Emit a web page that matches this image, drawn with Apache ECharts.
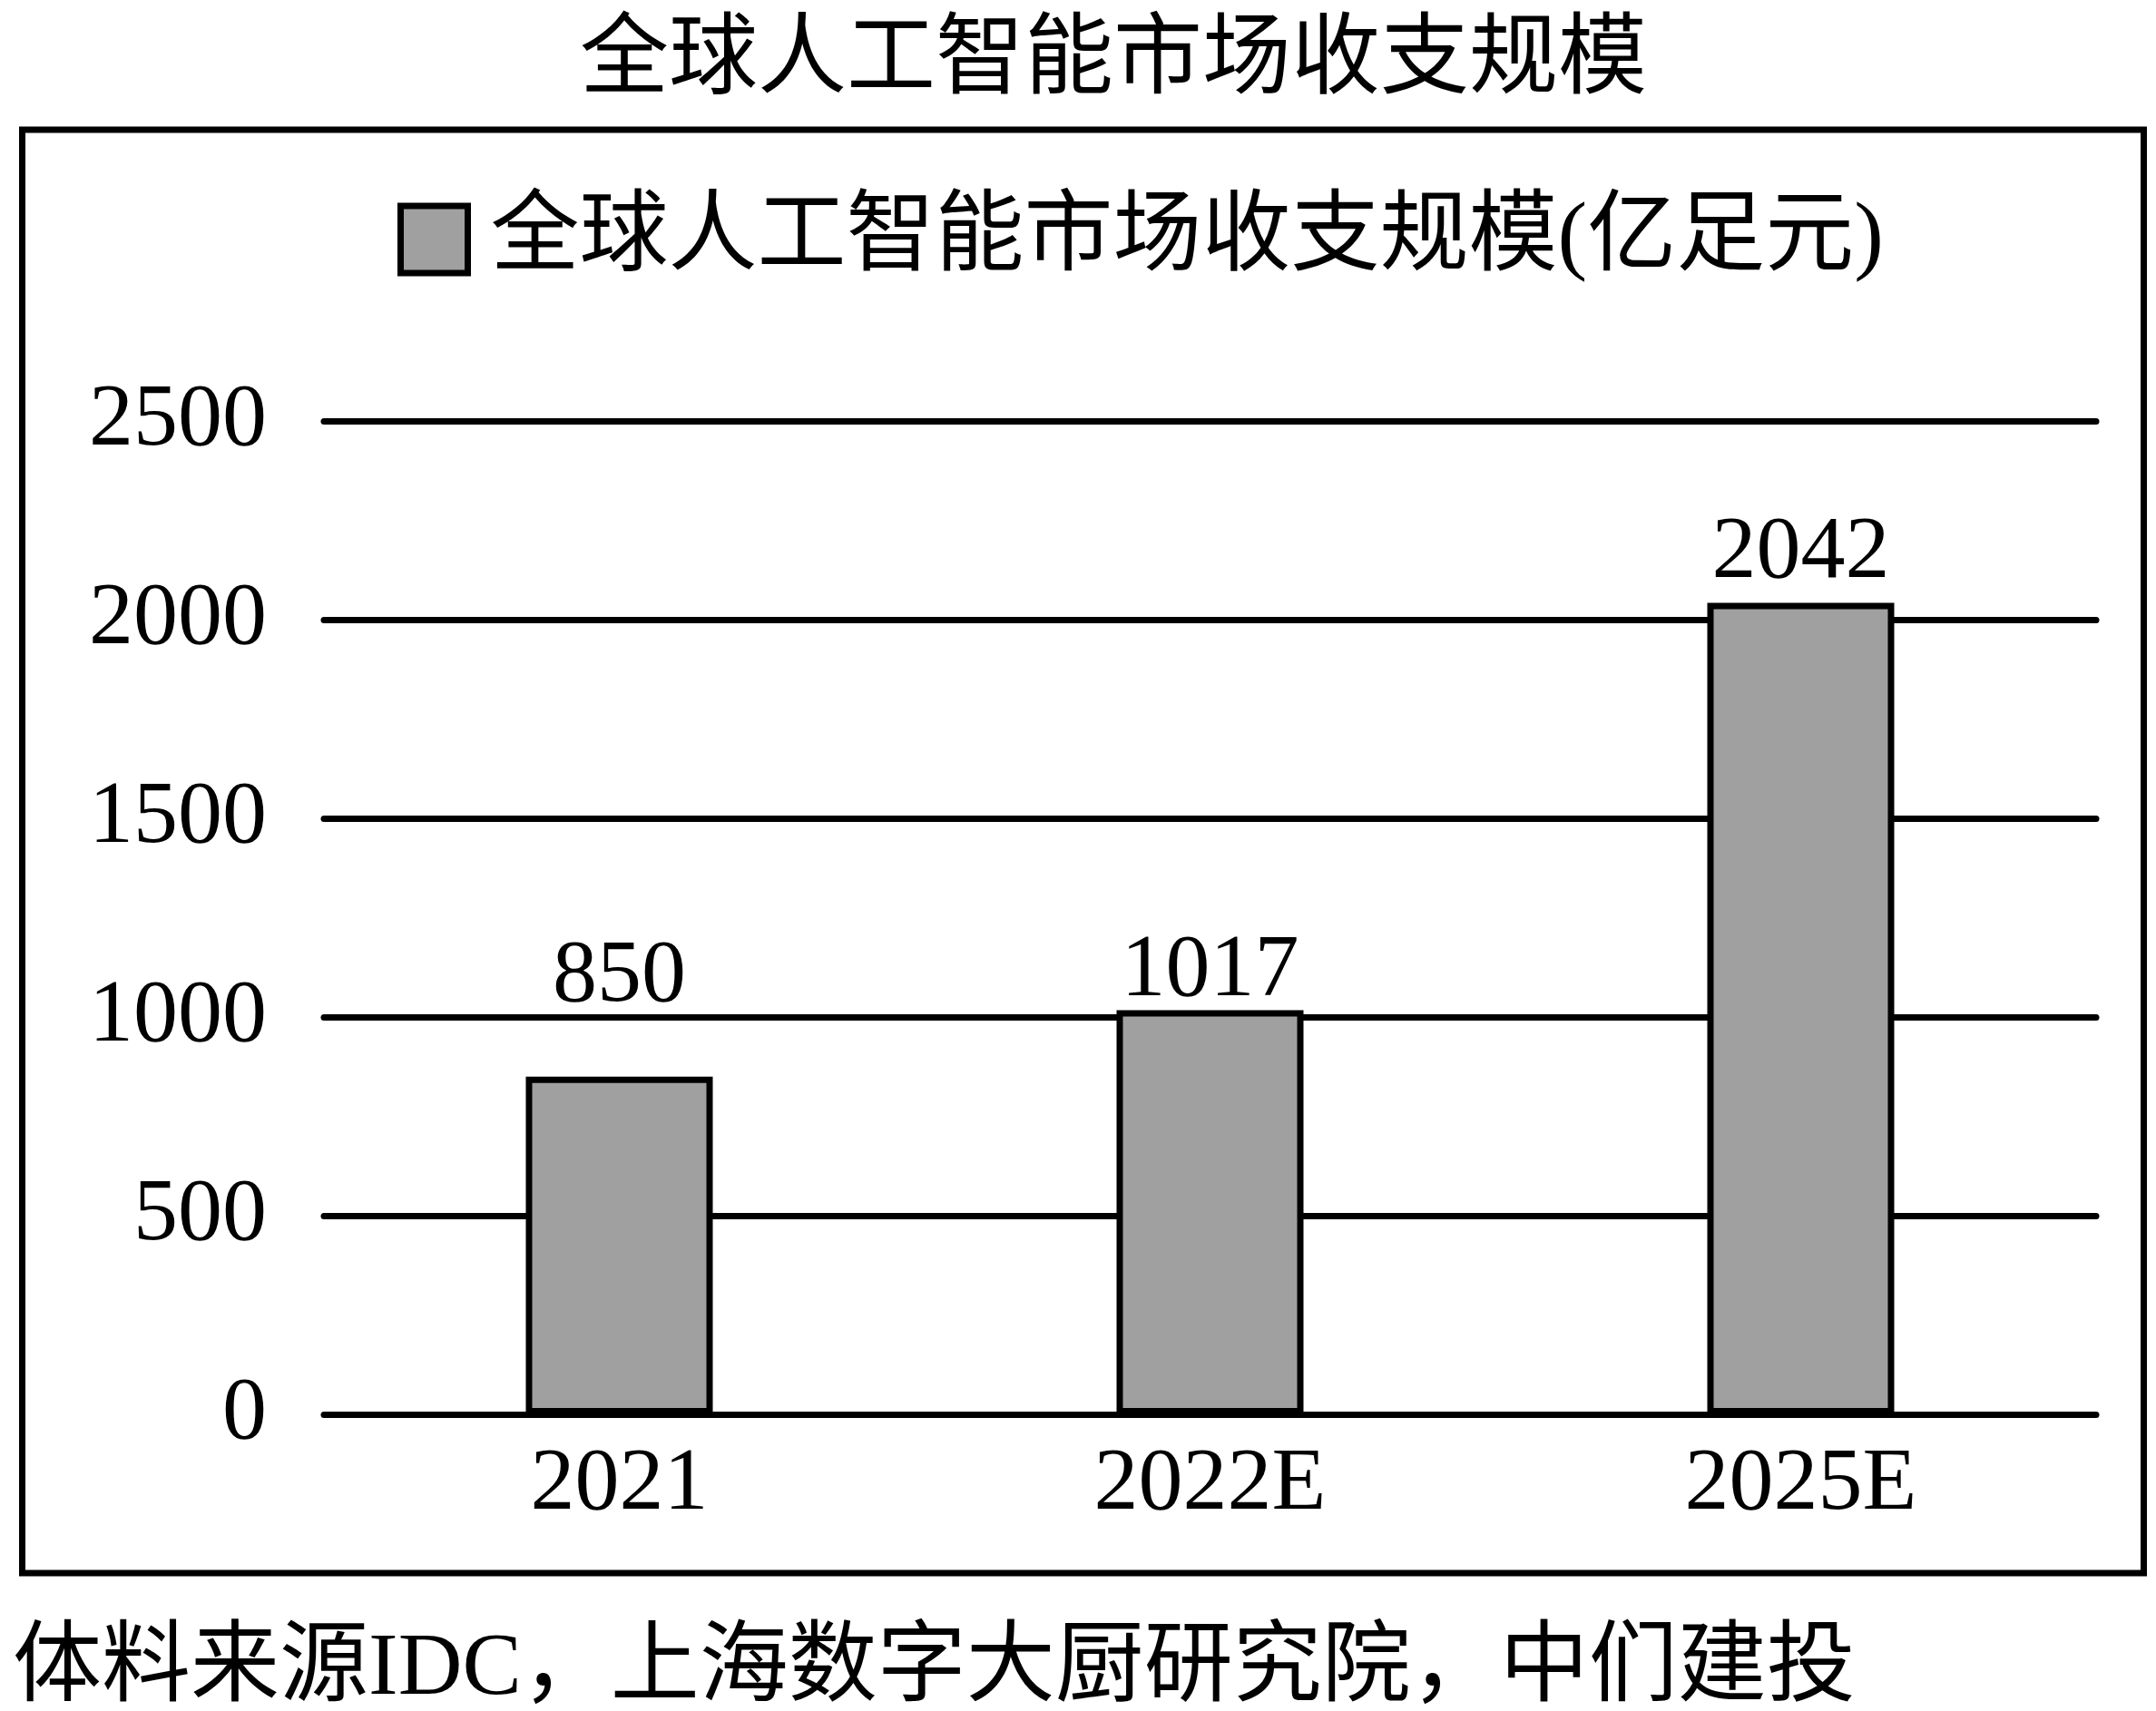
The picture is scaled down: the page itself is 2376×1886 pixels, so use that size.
<!DOCTYPE html>
<html>
<head>
<meta charset="utf-8">
<script src="https://cdn.jsdelivr.net/npm/echarts@6/dist/echarts.min.js"></script>
<style>
html,body{margin:0;padding:0;background:#fff;}
#chart{width:2376px;height:1886px;}
</style>
</head>
<body>
<div id="chart"></div>
<script>
// ---- data ----
const chartTitle = '全球人工智能市场收支规模';
const seriesName = '全球人工智能市场收支规模(亿足元)';
const sourceNote = '体料来源IDC，上海数字大厨研究院，中们建投';
const categories = ['2021', '2022E', '2025E'];
const marketSize = [850, 1017, 2042];
const yTicks = [0, 500, 1000, 1500, 2000, 2500];

// ---- style ----
const FONT = "'Liberation Serif', 'Noto Sans CJK SC', serif";
const FS = 98;
const labelLift = [-60, 7, -5];

const chart = echarts.init(document.getElementById('chart'), null, {renderer: 'canvas'});
const option = {
  backgroundColor: '#ffffff',
  animation: false,
  title: [
    {
      text: chartTitle, left: 639, top: 20, padding: 0,
      textStyle: {fontFamily: FONT, fontSize: FS, fontWeight: 'normal', color: '#000'}
    },
    {
      text: sourceNote, left: 14, top: 1792, padding: 0,
      textStyle: {fontFamily: FONT, fontSize: FS, fontWeight: 'normal', color: '#000'}
    }
  ],
  legend: {
    data: [seriesName],
    left: 438, top: 215, padding: 0,
    itemWidth: 74, itemHeight: 74,
    icon: 'rect',
    itemStyle: {color: '#a0a0a0', borderColor: '#000', borderWidth: 7},
    textStyle: {fontFamily: FONT, fontSize: FS, color: '#000', padding: [10, 0, 0, 20]}
  },
  grid: {left: 357, right: 66, top: 464, bottom: 327},
  xAxis: {
    type: 'category',
    data: categories,
    axisLine: {show: false},
    axisTick: {show: false},
    axisLabel: {fontFamily: FONT, fontSize: FS, color: '#000', margin: 29}
  },
  yAxis: {
    type: 'value',
    min: yTicks[0], max: yTicks[yTicks.length - 1], interval: yTicks[1] - yTicks[0],
    axisLine: {show: false},
    axisTick: {show: false},
    axisLabel: {fontFamily: FONT, fontSize: FS, color: '#000', margin: 63,
      formatter: v => String(v)},
    splitLine: {show: true, lineStyle: {color: '#000', width: 7, cap: 'round'}}
  },
  series: [{
    name: seriesName,
    type: 'bar',
    barWidth: 206,
    data: marketSize.map((v, i) => ({value: v, label: {offset: [0, labelLift[i]]}})),
    itemStyle: {color: '#a0a0a0', borderColor: '#000', borderWidth: 7},
    label: {
      show: true, position: 'top', distance: 0,
      fontFamily: FONT, fontSize: FS, color: '#000'
    }
  }],
  graphic: [{
    type: 'rect',
    shape: {x: 24.5, y: 143, width: 2338, height: 1591},
    style: {fill: 'none', stroke: '#000', lineWidth: 7},
    silent: true
  }]
};
chart.setOption(option);
</script>
</body>
</html>
